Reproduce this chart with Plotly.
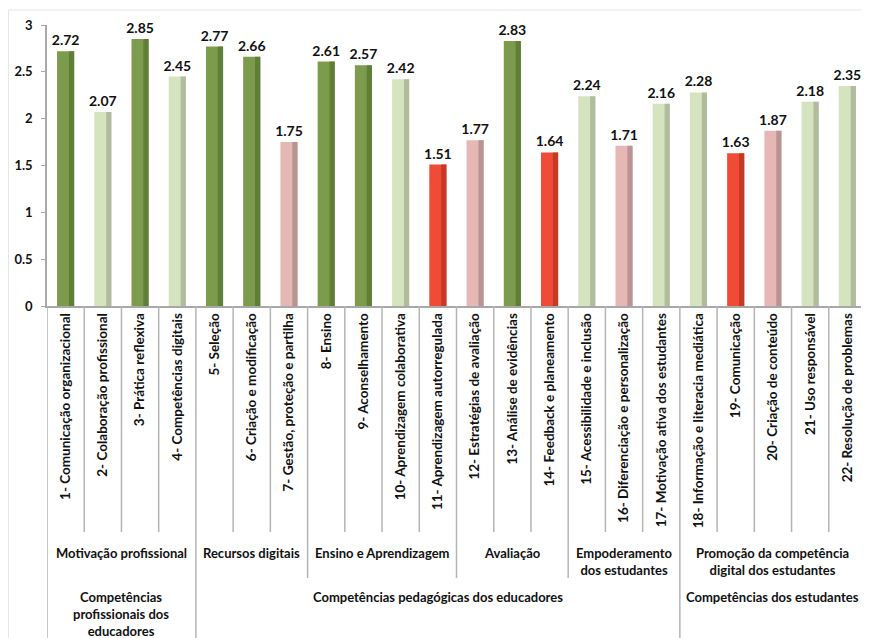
import plotly.graph_objects as go

labels = [
    "1- Comunicação organizacional", "2- Colaboração profissional", "3- Prática reflexiva",
    "4- Competências digitais", "5- Seleção", "6- Criação e modificação",
    "7- Gestão, proteção e partilha", "8- Ensino", "9- Aconselhamento",
    "10- Aprendizagem colaborativa", "11- Aprendizagem autorregulada",
    "12- Estratégias de avaliação", "13- Análise de evidências", "14- Feedback e planeamento",
    "15- Acessibilidade e inclusão", "16- Diferenciação e personalização",
    "17- Motivação ativa dos estudantes", "18- Informação e literacia mediática",
    "19- Comunicação", "20- Criação de conteúdo", "21- Uso responsável",
    "22- Resolução de problemas",
]
values = [2.72, 2.07, 2.85, 2.45, 2.77, 2.66, 1.75, 2.61, 2.57, 2.42, 1.51,
          1.77, 2.83, 1.64, 2.24, 1.71, 2.16, 2.28, 1.63, 1.87, 2.18, 2.35]
levels = ["D", "L", "D", "L", "D", "D", "P", "D", "D", "L", "R",
          "P", "D", "R", "L", "P", "L", "L", "R", "P", "L", "L"]

groups = ["Motivação profissional", "Recursos digitais", "Ensino e Aprendizagem",
          "Avaliação", "Empoderamento<br>dos estudantes",
          "Promoção da competência<br>digital dos estudantes"]
group_sizes = [4, 3, 4, 3, 3, 5]
areas = ["Competências<br>profissionais dos<br>educadores",
         "Competências pedagógicas dos educadores",
         "Competências dos estudantes"]
area_sizes = [4, 13, 5]

main_col = {"D": "#7C9B4C", "L": "#D5E3BE", "P": "#E5B8B6", "R": "#EF4B36"}
dark_col = {"D": "#56742F", "L": "#A3AF92", "P": "#A98886", "R": "#B8331F"}

FONT = "Lato"
x = list(range(len(values)))

# page has an 8px body margin; work in page pixels and convert
OFF = 8
PW, PH = 869, 638
W, H = PW - OFF, PH - OFF
L, R, T, B = 47 - OFF, 3, 25 - OFF, 332
plot_h = H - T - B
def py(p):  # page pixel y -> paper
    return (PH - B - p) / plot_h
def px(p):  # page pixel x -> paper
    return (p - 47) / (W - L - R)

fig = go.Figure()
fig.add_trace(go.Bar(
    x=x, y=values, width=0.46,
    marker=dict(color=[main_col[c] for c in levels], line=dict(width=0)),
    text=[f"{v:.2f}" for v in values], textposition="outside", constraintext="none",
    textfont=dict(family=FONT, size=14, color="#111111", weight="bold"),
    cliponaxis=False, hoverinfo="skip",
))
fig.add_trace(go.Bar(
    x=x, y=values, width=0.14, offset=0.09,
    marker=dict(color=[dark_col[c] for c in levels], line=dict(width=0), opacity=0.75),
    hoverinfo="skip",
))

shapes = []
sep = dict(type="line", xref="x", yref="paper", line=dict(color="#B4B4B4", width=1.5))
grp_b = set()
acc = 0
for s in group_sizes:
    acc += s
    grp_b.add(acc)
area_b = set()
acc = 0
for s in area_sizes:
    acc += s
    area_b.add(acc)
for i in range(0, len(values) + 1):
    if i == 0 or i in area_b:
        y1 = py(PH + 2)
    elif i in grp_b:
        y1 = py(578)
    else:
        y1 = py(532)
    shapes.append(dict(sep, x0=i - 0.5, x1=i - 0.5, y0=0, y1=y1))
# faint outer frame
shapes.append(dict(type="line", xref="paper", yref="paper", x0=px(8.5), x1=px(8.5),
                   y0=py(10), y1=py(PH + 2), line=dict(color="#E6E6E6", width=1)))
shapes.append(dict(type="line", xref="paper", yref="paper", x0=px(8.5), x1=px(PW),
                   y0=py(10), y1=py(10), line=dict(color="#E6E6E6", width=1)))

annotations = []
start = 0
for g, s in zip(groups, group_sizes):
    annotations.append(dict(x=start + (s - 1) / 2, y=py(543), xref="x", yref="paper",
                            text=g, showarrow=False, yanchor="top",
                            font=dict(family=FONT, size=13, color="#111111", weight="bold")))
    start += s
start = 0
for a, s in zip(areas, area_sizes):
    annotations.append(dict(x=start + (s - 1) / 2, y=py(587), xref="x", yref="paper",
                            text=a, showarrow=False, yanchor="top",
                            font=dict(family=FONT, size=13, color="#111111", weight="bold")))
    start += s

fig.update_layout(
    width=W, height=H,
    margin=dict(l=L, r=R, t=T, b=B),
    paper_bgcolor="white", plot_bgcolor="white",
    barmode="overlay", showlegend=False,
    shapes=shapes, annotations=annotations,
    xaxis=dict(range=[-0.5, len(values) - 0.5], tickmode="array", tickvals=x,
               ticktext=labels, tickangle=-90, ticks="", showgrid=False,
               showline=True, linecolor="#A8A8A8", linewidth=1.5, zeroline=False,
               tickfont=dict(family=FONT, size=13.5, color="#111111", weight="bold")),
    yaxis=dict(range=[0, 3], dtick=0.5, showgrid=False, showline=True,
               linecolor="#A8A8A8", linewidth=1.5, ticks="outside", ticklen=4,
               tickcolor="#A8A8A8", zeroline=False, ticklabelstandoff=6,
               tickfont=dict(family=FONT, size=13, color="#111111", weight="bold")),
)

fig.write_html("out.html")
